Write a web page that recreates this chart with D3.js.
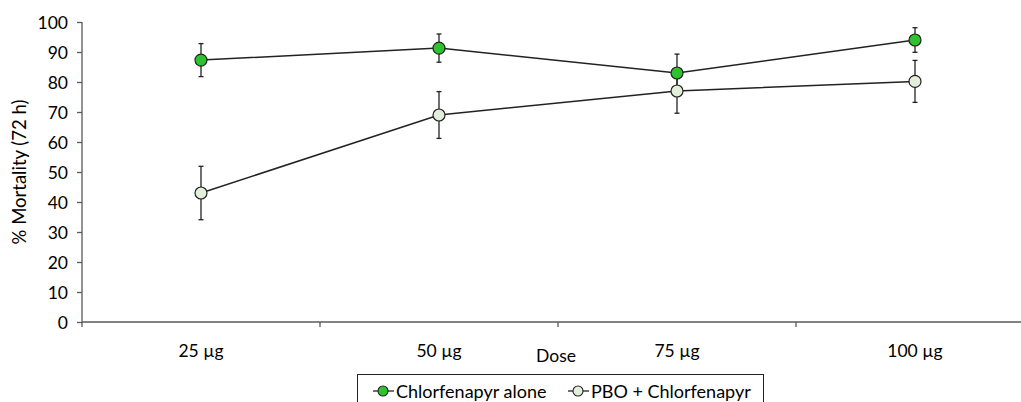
<!DOCTYPE html>
<html><head><meta charset="utf-8">
<script src="https://cdn.jsdelivr.net/npm/d3@7"></script>
<style>body{margin:0;background:#fff}text{font-family:Lato,"Open Sans",sans-serif;fill:#000}</style>
</head><body>
<svg id="c" width="1021" height="402"></svg>
<script>
const categories = ["25 µg", "50 µg", "75 µg", "100 µg"];
const aloneValues = [87.3, 91.3, 83.0, 94.0];
const aloneErrors = [5.5, 4.7, 6.3, 4.1];
const pboValues = [43.0, 69.0, 77.0, 80.2];
const pboErrors = [8.9, 7.8, 7.4, 7.0];
const yTicks = [0,10,20,30,40,50,60,70,80,90,100];
const seriesNames = ["Chlorfenapyr alone", "PBO + Chlorfenapyr"];
const seriesColors = ["#2ec32e", "#e2efda"];

const svg = d3.select("#c");
const pLeft = 82, pRight = 1034, pTop = 22, pBottom = 322;
const x = d3.scaleBand().domain(categories).range([pLeft, pRight]);
const y = d3.scaleLinear().domain([0, 100]).range([pBottom, pTop]);
const axisColor = "#595959";

// y axis
const ya = svg.append("g").attr("transform", `translate(${pLeft},0)`)
  .call(d3.axisLeft(y).tickValues(yTicks).tickSizeOuter(0).tickSize(5).tickPadding(9));
ya.select(".domain").attr("stroke", axisColor).attr("stroke-width", 1.3).attr("d", `M0,${pTop}V${pBottom+5}`);
ya.selectAll(".tick line").attr("stroke", axisColor).attr("stroke-width", 1.3);
ya.selectAll(".tick text").style("font-size", "17.5px").attr("dy", "0.35em");

// x axis
const xa = svg.append("g").attr("transform", `translate(0,${pBottom})`);
xa.append("line").attr("x1", pLeft).attr("x2", 1021).attr("y1", 0).attr("y2", 0)
  .attr("stroke", axisColor).attr("stroke-width", 1.3);
categories.slice(1).forEach(c => {
  xa.append("line").attr("x1", x(c)).attr("x2", x(c)).attr("y1", 0).attr("y2", 5)
    .attr("stroke", axisColor).attr("stroke-width", 1.3);
});
categories.forEach(c => {
  xa.append("text").attr("x", x(c) + x.bandwidth()/2).attr("y", 35)
    .attr("text-anchor", "middle").style("font-size", "17.5px").text(c);
});

svg.append("text").attr("x", 556).attr("y", 362).attr("text-anchor", "middle")
  .style("font-size", "17.5px").text("Dose");
svg.append("text").attr("transform", `translate(26,${(pTop+pBottom)/2}) rotate(-90)`)
  .attr("text-anchor", "middle").style("font-size", "18.5px").text("% Mortality (72 h)");

const series = [
  {vals: aloneValues, errs: aloneErrors, color: seriesColors[0]},
  {vals: pboValues, errs: pboErrors, color: seriesColors[1]}
];
const cx = c => x(c) + x.bandwidth()/2;
const line = d3.line().x(d => cx(d.c)).y(d => y(d.v));
series.forEach(s => {
  const data = categories.map((c, i) => ({c, v: s.vals[i], e: s.errs[i]}));
  svg.append("path").datum(data).attr("d", line).attr("fill", "none")
    .attr("stroke", "#222").attr("stroke-width", 1.5);
  const g = svg.append("g");
  data.forEach(d => {
    const xx = cx(d.c);
    g.append("line").attr("x1", xx).attr("x2", xx).attr("y1", y(d.v + d.e)).attr("y2", y(d.v - d.e))
      .attr("stroke", "#222").attr("stroke-width", 1.3);
    [d.v + d.e, d.v - d.e].forEach(v => g.append("line").attr("x1", xx-2.5).attr("x2", xx+2.5)
      .attr("y1", y(v)).attr("y2", y(v)).attr("stroke", "#222").attr("stroke-width", 1.3));
  });
  s.g = data;
});
series.forEach(s => {
  svg.append("g").selectAll("circle").data(s.g).join("circle")
    .attr("cx", d => cx(d.c)).attr("cy", d => y(d.v)).attr("r", 6)
    .attr("fill", s.color).attr("stroke", "#222").attr("stroke-width", 1.2);
});

// legend
const lg = svg.append("g");
lg.append("rect").attr("x", 357.5).attr("y", 374.5).attr("width", 406).attr("height", 40)
  .attr("fill", "#fff").attr("stroke", "#222").attr("stroke-width", 1);
const legX = [383, 578];
seriesNames.forEach((n, i) => {
  const lx = legX[i];
  lg.append("line").attr("x1", lx-10).attr("x2", lx+11).attr("y1", 391).attr("y2", 391)
    .attr("stroke", "#222").attr("stroke-width", 1.3);
  lg.append("circle").attr("cx", lx).attr("cy", 391).attr("r", 5)
    .attr("fill", seriesColors[i]).attr("stroke", "#222").attr("stroke-width", 1.1);
  lg.append("text").attr("x", lx+13).attr("y", 397.5).style("font-size", "18px").text(n);
});
</script>
</body></html>
